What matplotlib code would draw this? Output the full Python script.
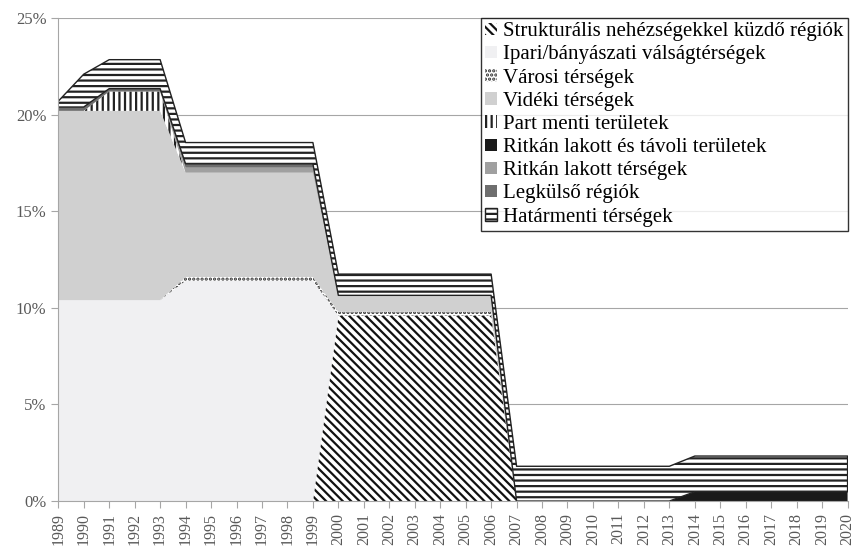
import numpy as np
import matplotlib.pyplot as plt
from matplotlib.ticker import PercentFormatter

plt.rcParams['font.family'] = ['Liberation Serif', 'DejaVu Serif']
plt.rcParams['hatch.linewidth'] = 1.6

years = np.arange(1989, 2021)

# értékek százalékban (alulról felfelé halmozva)
strukturalis = [0, 0, 0, 0, 0, 0, 0, 0, 0, 0, 0,
                9.6, 9.6, 9.6, 9.6, 9.6, 9.6, 9.6,
                0, 0, 0, 0, 0, 0, 0, 0, 0, 0, 0, 0, 0, 0]
ipari = [10.4, 10.4, 10.4, 10.4, 10.4,
         11.4, 11.4, 11.4, 11.4, 11.4, 11.4,
         0, 0, 0, 0, 0, 0, 0,
         0, 0, 0, 0, 0, 0, 0, 0, 0, 0, 0, 0, 0, 0]
varosi = [0, 0, 0, 0, 0,
          0.2, 0.2, 0.2, 0.2, 0.2, 0.2,
          0.2, 0.2, 0.2, 0.2, 0.2, 0.2, 0.2,
          0, 0, 0, 0, 0, 0, 0, 0, 0, 0, 0, 0, 0, 0]
videki = [9.8, 9.8, 9.8, 9.8, 9.8,
          5.4, 5.4, 5.4, 5.4, 5.4, 5.4,
          0.85, 0.85, 0.85, 0.85, 0.85, 0.85, 0.85,
          0, 0, 0, 0, 0, 0, 0, 0, 0, 0, 0, 0, 0, 0]
part_menti = [0, 0, 1.0, 1.0, 1.0,
              0, 0, 0, 0, 0, 0,
              0, 0, 0, 0, 0, 0, 0,
              0, 0, 0, 0, 0, 0, 0, 0, 0, 0, 0, 0, 0, 0]
ritkan_tavoli = [0, 0, 0, 0, 0,
                 0, 0, 0, 0, 0, 0,
                 0, 0, 0, 0, 0, 0, 0,
                 0, 0, 0, 0, 0, 0, 0, 0.48, 0.48, 0.48, 0.48, 0.48, 0.48, 0.48]
ritkan = [0, 0, 0, 0, 0,
          0.26, 0.26, 0.26, 0.26, 0.26, 0.26,
          0, 0, 0, 0, 0, 0, 0,
          0, 0, 0, 0, 0, 0, 0, 0, 0, 0, 0, 0, 0, 0]
legkulso = [0.2, 0.2, 0.15, 0.15, 0.15,
            0.2, 0.2, 0.2, 0.2, 0.2, 0.2,
            0, 0, 0, 0, 0, 0, 0,
            0, 0, 0, 0, 0, 0, 0, 0, 0, 0, 0, 0, 0, 0]
hatarmenti = [0.3, 1.7, 1.5, 1.5, 1.5,
              1.1, 1.1, 1.1, 1.1, 1.1, 1.1,
              1.1, 1.1, 1.1, 1.1, 1.1, 1.1, 1.1,
              1.8, 1.8, 1.8, 1.8, 1.8, 1.8, 1.8, 1.85, 1.85, 1.85, 1.85, 1.85, 1.85, 1.85]

labels = ['Strukturális nehézségekkel küzdő régiók',
          'Ipari/bányászati válságtérségek',
          'Városi térségek',
          'Vidéki térségek',
          'Part menti területek',
          'Ritkán lakott és távoli területek',
          'Ritkán lakott térségek',
          'Legkülső régiók',
          'Határmenti térségek']
series = [strukturalis, ipari, varosi, videki, part_menti,
          ritkan_tavoli, ritkan, legkulso, hatarmenti]

# stílusok: (facecolor, hatch, edgecolor, linewidth)
styles = [
    ('white', '\\\\\\\\', '#111111', 0),
    ('#f0f0f2', None, 'none', 0),
    ('white', '....', '#333333', 0),
    ('#d0d0d0', None, 'none', 0),
    ('white', '|||', '#222222', 0),
    ('#1a1a1a', None, 'none', 0),
    ('#a0a0a0', None, 'none', 0),
    ('#6e6e6e', None, 'none', 0),
    ('white', '---', '#222222', 1.0),
]

fig = plt.figure(figsize=(8.57, 5.5), dpi=100)
ax = fig.add_axes([0.068, 0.089, 0.921, 0.878])

base = np.zeros(len(years))
handles = []
for vals, lab, (fc, h, ec, lw) in zip(series, labels, styles):
    vals = np.array(vals, dtype=float)
    top = base + vals
    p = ax.fill_between(years, base, top, facecolor=fc, hatch=h,
                        edgecolor=ec, linewidth=lw, label=lab, zorder=2)
    handles.append(p)
    base = top

ax.set_xlim(1989, 2020)
ax.set_ylim(0, 25)
ax.set_yticks([0, 5, 10, 15, 20, 25])
ax.yaxis.set_major_formatter(PercentFormatter(decimals=0))
ax.set_xticks(years)
ax.set_xticklabels([str(y) for y in years], rotation=90)
ax.grid(axis='y', color='#a6a6a6', linewidth=0.8, zorder=0)
ax.set_axisbelow(True)

for s in ['top', 'right']:
    ax.spines[s].set_visible(False)
for s in ['left', 'bottom']:
    ax.spines[s].set_color('#a6a6a6')
ax.tick_params(colors='#a6a6a6', labelcolor='#595959', length=5, width=0.8)
ax.tick_params(axis='y', labelsize=12)
ax.tick_params(axis='x', labelsize=11.5)

leg = ax.legend(handles=handles, loc='upper right', fontsize=15,
                frameon=True, fancybox=False, edgecolor='black',
                borderaxespad=0, handlelength=0.55, handleheight=0.55,
                handletextpad=0.3, labelspacing=0.2, borderpad=0.2)
leg.get_frame().set_linewidth(1.0)

plt.savefig('out.png', dpi=100)
